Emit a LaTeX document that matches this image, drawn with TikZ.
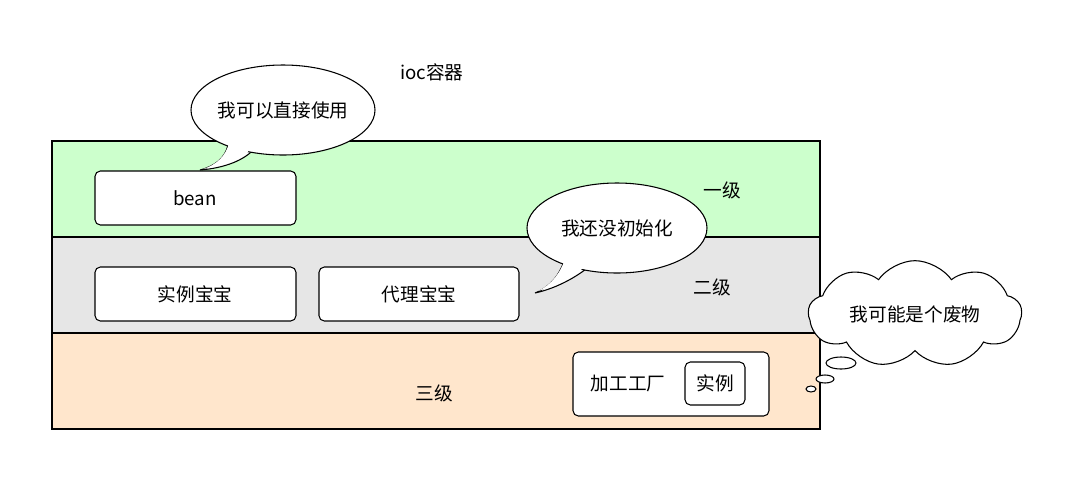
\documentclass[tikz,border=0pt]{standalone}
\usepackage{fontspec}
\setmainfont{Noto Sans CJK SC}
\usetikzlibrary{shapes.symbols}
\begin{document}
\begin{tikzpicture}[x=0.75pt,y=-0.75pt,font=\fontsize{14}{16}\selectfont,
 layer/.style={draw=black,line width=0.8pt},
 rbox/.style={draw=black,fill=white,rounded corners=4pt,line width=0.8pt},
 lbl/.style={inner sep=0pt}]
\useasboundingbox (0,0) rectangle (1076,480);
\draw[layer,fill={rgb,255:red,204;green,255;blue,204}] (52,141) rectangle (820,237);
\draw[layer,fill={rgb,255:red,230;green,230;blue,230}] (52,237) rectangle (820,333);
\draw[layer,fill={rgb,255:red,255;green,230;blue,204}] (52,333) rectangle (820,429);
\node[lbl] (ioc) at (432,72) {ioc容器};
\node[lbl] (l1) at (722,190) {一级};
\node[lbl] (l2) at (712,287) {二级};
\node[lbl] (l3) at (434,393) {三级};
\draw[rbox] (95,171) rectangle (296,225);
\node[lbl] (bean) at (195,198) {bean};
\draw[rbox] (95,267) rectangle (296,321);
\node[lbl] (sl) at (195,294) {实例宝宝};
\draw[rbox] (319,267) rectangle (519,321);
\node[lbl] (dl) at (419,294) {代理宝宝};
\draw[rbox] (573,352) rectangle (769,416);
\node[lbl] (jg) at (628,384) {加工工厂};
\draw[rbox] (685,362) rectangle (745,405);
\node[lbl] (sl2) at (715,383) {实例};
% callout 1
\draw[line width=0.8pt,fill=white] (228,145) .. controls (225,158) and (215,166) .. (200,170) .. controls (225,168) and (245,160) .. (255,148) -- cycle;
\draw[line width=0.8pt,fill=white] (283,110) ellipse [x radius=92,y radius=45];
\fill[white] (229,143) .. controls (226,156) and (216,165) .. (203,169) .. controls (225,166) and (243,158) .. (254,146) -- cycle;
\node[lbl] (c1) at (283,110) {我可以直接使用};
% callout 2
\draw[line width=0.8pt,fill=white] (565,258) .. controls (560,275) and (550,287) .. (535,293) .. controls (558,288) and (580,275) .. (592,264) -- cycle;
\draw[line width=0.8pt,fill=white] (617,228) ellipse [x radius=90,y radius=45];
\fill[white] (566,256) .. controls (561,273) and (551,285) .. (538,291) .. controls (558,286) and (578,273) .. (591,262) -- cycle;
\node[lbl] (c2) at (617,228) {我还没初始化};
% cloud
\node[cloud,draw,fill=white,line width=0.8pt,cloud puffs=9,cloud puff arc=110,aspect=2.2,minimum width=160pt,minimum height=80pt,inner sep=0pt] (cl) at (915,314) {};
\node[lbl] at (cl.center) {我可能是个废物};
\draw[line width=0.8pt,fill=white] (841,363) ellipse [x radius=15,y radius=6];
\draw[line width=0.8pt,fill=white] (825,379) ellipse [x radius=9,y radius=4];
\draw[line width=0.8pt,fill=white] (811,389) ellipse [x radius=5,y radius=3];
\end{tikzpicture}
\end{document}
